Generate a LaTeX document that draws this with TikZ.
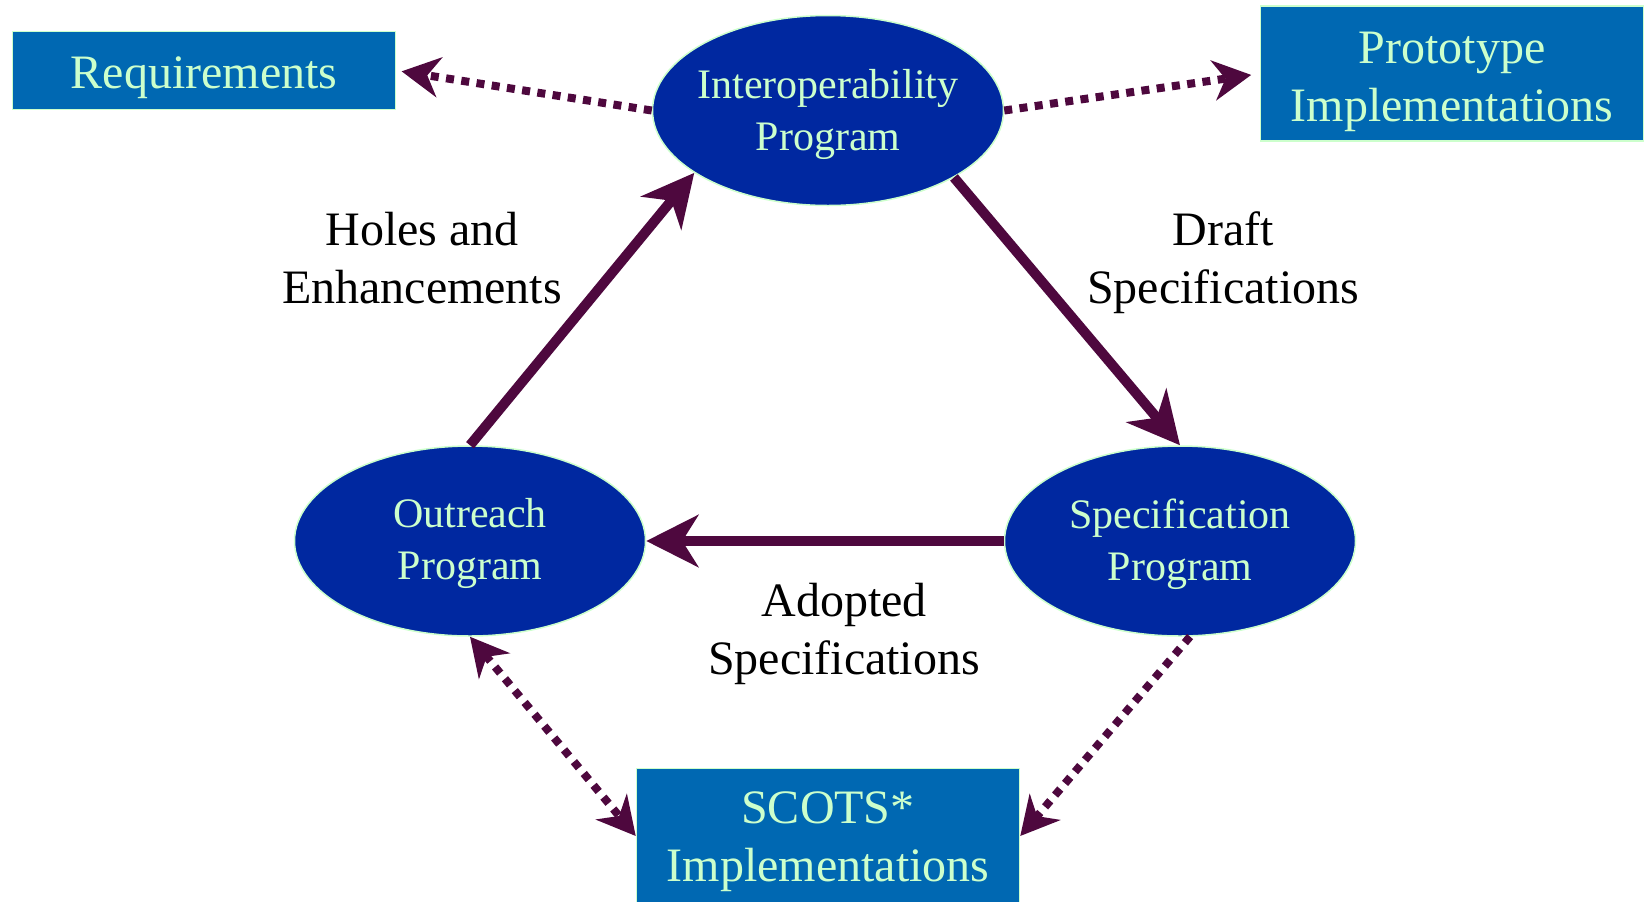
\documentclass[tikz,border=0pt]{standalone}
\usepackage{fontspec}
\setmainfont{Liberation Serif}
\usetikzlibrary{arrows.meta,positioning,shapes.geometric}
\definecolor{progblue}{RGB}{0,40,160}
\definecolor{boxblue}{RGB}{0,104,178}
\definecolor{palegreen}{RGB}{204,255,204}
\definecolor{flowpurple}{RGB}{78,8,62}
\newcommand{\toppad}[1]{\rule{0pt}{#1}}
\tikzset{
  flowtip/.tip={Stealth[length=26pt,width=26pt,inset=8pt]},
  feedtip/.tip={Stealth[length=19pt,width=20pt,inset=6pt]}
}

\begin{document}
\begin{tikzpicture}[x=0.5pt,y=-0.5pt,on grid,
    every node/.style={font=\fontsize{24}{29}\selectfont},
    flow/.style={draw=flowpurple,line width=5pt,-flowtip},
    feed/.style={draw=flowpurple,line width=4pt,dash pattern=on 4pt off 3.7pt,-feedtip}]
  \tikzstyle{program}=[ellipse,draw=palegreen,line width=0.75pt,fill=progblue,text=palegreen,
    inner xsep=-4pt,minimum width=175.5pt,minimum height=95pt,align=center,font=\fontsize{21}{26}\selectfont]
  \tikzstyle{output}=[rectangle,draw=palegreen,line width=0.75pt,fill=boxblue,text=palegreen,
    inner ysep=0pt,minimum width=191.5pt,minimum height=39pt,align=center]
  \tikzstyle{note}=[align=center,inner sep=0pt]
  \useasboundingbox (0,0) rectangle (1650,901);

  % Programs
  \node[program] (interop) at (828,110.5) {\toppad{18.3pt}Interoperability\\Program};
  \node[program] (outreach) [below left=215.25pt and 179pt of interop] {\toppad{16.6pt}Outreach\\Program};
  \node[program] (spec) [right=355pt of outreach] {\toppad{18.3pt}Specification\\Program};

  % Outputs
  \node[output] (req) [above left=20pt and 312pt of interop] {\toppad{22.8pt}Requirements};
  \node[output, minimum height=67.5pt] (proto) [above right=18.4pt and 312pt of interop] {\toppad{23.8pt}Prototype\\Implementations};
  \node[output, minimum height=67.5pt] (scots) [below=362.75pt of interop] {\toppad{21.5pt}SCOTS*\\Implementations};

  % Labels
  \node[note] (holes) at (422,258.4) {Holes and\\Enhancements};
  \node[note] (draft) at (1223,262.6) {Draft\\Specifications};
  \node[note] (adopted) at (844,634) {Adopted\\Specifications};

  % Flows
  \path[flow] (outreach.north) -- (interop.205);
  \path[flow] (interop.-28) -- (spec.north);
  \path[flow] (spec.west) -- (outreach.east);
  \path[feed, shorten >=2.7pt] (interop.west) -- (req.east);
  \path[feed, shorten >=4.3pt] (interop.east) -- (proto.west);
  \path[feed, feedtip-feedtip] (outreach.south) -- (scots.west);
  \path[feed] (spec.-84) -- (scots.east);
\end{tikzpicture}
\end{document}
